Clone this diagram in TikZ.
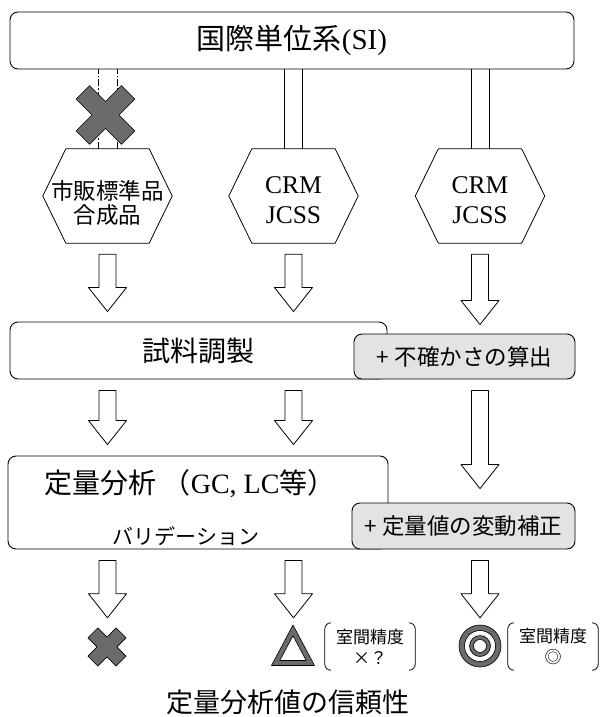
\documentclass[tikz,border=0pt]{standalone}
\usepackage{fontspec}
\setmainfont{Liberation Serif}
\newfontfamily\jp{Noto Sans CJK JP}
\usetikzlibrary{calc}
\newcommand\hexdraw[1]{\draw[hexline] (#1.west) -- ($(#1.north west)+(23,0)$) -- ($(#1.north east)+(-23,0)$) -- (#1.east) -- ($(#1.south east)+(-23,0)$) -- ($(#1.south west)+(23,0)$) -- cycle;}
\newcommand\crossdraw[3]{\draw[xmark, shift={(#1)}, rotate=45] (#3,#2) -- (#3,#3) -- (#2,#3) -- (#2,-#3) -- (#3,-#3) -- (#3,-#2) -- (-#3,-#2) -- (-#3,-#3) -- (-#2,-#3) -- (-#2,#3) -- (-#3,#3) -- (-#3,#2) -- cycle;}
\newcommand\bracketdraw[1]{%
  \draw[brk] ($(#1.north west)+(6,0)$) -- (#1.north west) -- (#1.south west) -- ($(#1.south west)+(6,0)$);
  \draw[brk] ($(#1.north east)+(-6,0)$) -- (#1.north east) -- (#1.south east) -- ($(#1.south east)+(-6,0)$);}
\tikzset{
  rbox/.style={draw, line width=0.9pt, rounded corners=8pt, fill=white, inner sep=0pt},
  gbox/.style={rbox, fill=black!11},
  hexanchor/.style={inner sep=0pt, minimum width=129pt, minimum height=94pt},
  hexline/.style={draw, line width=0.8pt, fill=white},
  harrow/.style={draw, line width=0.8pt, fill=white,
    to path={let \p1=(\tikztostart), \p2=(\tikztotarget) in
      (\x1-8.5pt,\y1) -- (\x1+8.5pt,\y1) -- (\x1+8.5pt,\y2+24pt) -- (\x1+19pt,\y2+24pt)
      -- (\x1,\y2) -- (\x1-19pt,\y2+24pt) -- (\x1-8.5pt,\y2+24pt) -- cycle}},
  dl/.style={line width=0.8pt},
  ddl/.style={line width=0.7pt, dash pattern=on 7pt off 2pt on 1.5pt off 2pt},
  xmark/.style={draw=black, line width=0.6pt, fill=black!58},
  txt/.style={inner sep=0pt, align=center},
  res/.style={inner sep=0pt, minimum size=40pt},
  lab/.style={inner sep=0pt, minimum width=90pt, minimum height=47pt, align=center,
    font=\jp\fontsize{17}{21}\selectfont},
  brk/.style={line width=0.8pt, rounded corners=6pt},
}
\begin{document}
\begin{tikzpicture}[x=1pt, y=-1pt, line join=round]
\useasboundingbox (0,0) rectangle (603,717);

% top box
\node[rbox, minimum width=564pt, minimum height=57pt,
  font=\fontsize{29}{32}\selectfont] (si) at (292,40.5) {\raisebox{-2pt}{{\jp 国際単位系}(SI)}};

% hexagons
\node[hexanchor] (h1) at (107.5,196) {};
\node[hexanchor] (h2) at (293.5,196) {};
\node[hexanchor] (h3) at (480,196) {};
\hexdraw{h1}\hexdraw{h2}\hexdraw{h3}
\node[txt, font=\jp\fontsize{22.5}{24}\selectfont] (t1) at (107.5,203) {市販標準品\\合成品};
\node[txt, font=\fontsize{25.5}{30}\selectfont] (t2) at (293.5,200) {CRM\\JCSS};
\node[txt, font=\fontsize{25.5}{30}\selectfont] (t3) at (480,200) {CRM\\JCSS};

% links from SI
\draw[ddl] ([xshift=-9.5pt]h1.north) -- ([xshift=-9.5pt]h1.north |- si.south);
\draw[ddl] ([xshift=9.5pt]h1.north) -- ([xshift=9.5pt]h1.north |- si.south);
\draw[dl] ([xshift=-9pt]h2.north) -- ([xshift=-9pt]h2.north |- si.south);
\draw[dl] ([xshift=9pt]h2.north) -- ([xshift=9pt]h2.north |- si.south);
\draw[dl] ([xshift=-9pt]h3.north) -- ([xshift=-9pt]h3.north |- si.south);
\draw[dl] ([xshift=9pt]h3.north) -- ([xshift=9pt]h3.north |- si.south);
\coordinate (xa) at (105.5,115);
\crossdraw{xa}{32}{9.5}

% sample preparation
\node[rbox, minimum width=377pt, minimum height=57pt,
  font=\jp\fontsize{28}{30}\selectfont] (prep) at (198.5,350.5) {\raisebox{-3pt}{試料調製}};
\node[gbox, minimum width=221pt, minimum height=45pt,
  font=\jp\fontsize{22.5}{24}\selectfont] (unc) at (464.5,356.5) {+ 不確かさの算出};

% quantitative analysis
\node[rbox, minimum width=380pt, minimum height=93pt] (quant) at (198,502.5) {};
\node[txt, font=\fontsize{28}{30}\selectfont] (q1) at (190,484) {{\jp 定量分析 （}GC, LC{\jp 等）}};
\node[txt, font=\jp\fontsize{21}{24}\selectfont] (q2) at (186,536) {バリデーション};
\node[gbox, minimum width=223pt, minimum height=46pt,
  font=\jp\fontsize{22.5}{24}\selectfont] (corr) at (463.5,526) {+ 定量値の変動補正};

% results
\node[res] (r1) at (107,647) {};
\node[res] (r2) at (293,646) {};
\node[res] (r3) at (480,646) {};
\node[lab] (l2) at (370,646.5) {室間精度\\×？};
\node[lab] (l3) at (553,646.5) {室間精度\\◎};
\bracketdraw{l2}\bracketdraw{l3}
\node[txt, font=\jp\fontsize{27}{30}\selectfont] (title) at (288,702) {定量分析値の信頼性};

% block arrows
\draw[harrow] ($(h1.south)+(0,11)$) to ($(h1.south |- prep.north)+(0,-10)$);
\draw[harrow] ($(h2.south)+(0,11)$) to ($(h2.south |- prep.north)+(0,-10)$);
\draw[harrow] ($(h3.south)+(0,11)$) to ($(h3.south |- unc.north)+(0,-9)$);
\draw[harrow] ($(prep.south -| h1)+(0,11)$) to ($(h1 |- quant.north)+(0,-11)$);
\draw[harrow] ($(prep.south -| h2)+(0,11)$) to ($(h2 |- quant.north)+(0,-11)$);
\draw[harrow] ($(unc.south -| h3)+(0,11)$) to ($(h3 |- corr.north)+(0,-14)$);
\draw[harrow] ($(quant.south -| h1)+(0,11)$) to ($(r1.north)+(0,-9)$);
\draw[harrow] ($(quant.south -| h2)+(0,11)$) to ($(r2.north -| h2)+(0,-8)$);
\draw[harrow] ($(corr.south -| h3)+(0,11)$) to ($(r3.north)+(0,-8)$);

% result symbols
\crossdraw{r1}{20}{7}
\filldraw[xmark, even odd rule] ($(r2)+(0,-21)$) -- ($(r2)+(21.5,19.5)$) -- ($(r2)+(-21.5,19.5)$) -- cycle
  ($(r2)+(0,-10.3)$) -- ($(r2)+(13.2,14.5)$) -- ($(r2)+(-13.2,14.5)$) -- cycle;
\filldraw[xmark, even odd rule] (r3) circle (21) (r3) circle (15.5) (r3) circle (10.5) (r3) circle (6.5);
\end{tikzpicture}
\end{document}
